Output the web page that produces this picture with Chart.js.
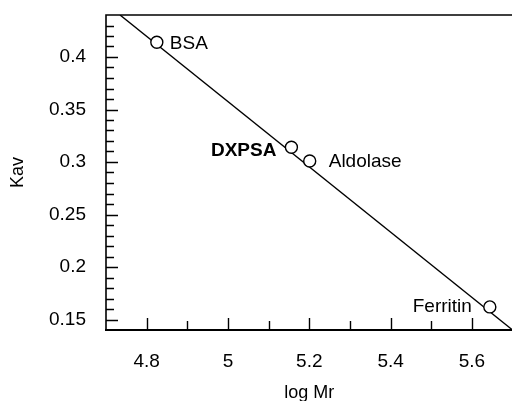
<!DOCTYPE html>
<html>
<head>
<meta charset="utf-8">
<script src="https://cdn.jsdelivr.net/npm/chart.js@4/dist/chart.umd.min.js"></script>
<style>
html,body{margin:0;padding:0;background:#fff;overflow:hidden;width:512px;height:401px;}
#wrap{position:absolute;left:0;top:0;width:520px;height:401px;}
</style>
</head>
<body>
<div id="wrap"><canvas id="c" width="520" height="401"></canvas></div>
<script>
// ---- data ----
const proteinNames = ["BSA", "DXPSA", "Aldolase", "Ferritin"];
const logMr = [4.825, 5.156, 5.201, 5.644];
const kav = [0.414, 0.314, 0.301, 0.162];
const fitLogMr = [4.7345, 5.70];
const fitKav = [0.440, 0.140];
const xTickValues = [4.8, 5, 5.2, 5.4, 5.6];
const yTickValues = [0.15, 0.2, 0.25, 0.3, 0.35, 0.4];

const FONT = "'Liberation Sans', Arial, Helvetica, sans-serif";

const labelPlacement = {
  "BSA":      {align: "left",  dx: 13,  dy: 1, bold: false},
  "DXPSA":    {align: "right", dx: -15, dy: 3, bold: true},
  "Aldolase": {align: "left",  dx: 19,  dy: 1, bold: false},
  "Ferritin": {align: "right", dx: -18, dy: 0, bold: false}
};

const framePlugin = {
  id: "frame",
  afterDraw(chart) {
    const ctx = chart.ctx, a = chart.chartArea;
    const xs = chart.scales.x, ys = chart.scales.y;
    ctx.save();
    ctx.strokeStyle = "#000";
    ctx.lineCap = "butt";
    ctx.lineWidth = 1.6;
    ctx.beginPath();
    ctx.moveTo(a.left, a.bottom); ctx.lineTo(a.left, a.top); ctx.lineTo(a.right, a.top);
    ctx.stroke();
    ctx.lineWidth = 2;
    ctx.beginPath();
    ctx.moveTo(a.left - 1, a.bottom); ctx.lineTo(a.right, a.bottom);
    ctx.stroke();
    ctx.lineWidth = 1.4;
    ctx.beginPath();
    for (let i = 0; i <= 10; i++) {
      const v = 4.7 + i * 0.1;
      const px = Math.round(xs.getPixelForValue(v)) + 0.5;
      if (px <= a.left + 2 || px >= a.right - 2) continue;
      const major = i % 2 === 1;
      ctx.moveTo(px, a.bottom);
      ctx.lineTo(px, a.bottom - (major ? 12 : 9));
    }
    for (let i = 0; i <= 30; i++) {
      const v = 0.14 + i * 0.01;
      const py = Math.round(ys.getPixelForValue(v)) + 0.5;
      if (py <= a.top + 2 || py >= a.bottom - 2) continue;
      const major = (i - 1) % 5 === 0;
      ctx.moveTo(a.left, py);
      ctx.lineTo(a.left + (major ? 12 : 8), py);
    }
    ctx.stroke();
    ctx.restore();
  }
};

const labelPlugin = {
  id: "ptlabels",
  afterDatasetsDraw(chart) {
    const ctx = chart.ctx;
    const xs = chart.scales.x, ys = chart.scales.y;
    ctx.save();
    ctx.fillStyle = "#000";
    ctx.textBaseline = "middle";
    proteinNames.forEach((n, i) => {
      const p = labelPlacement[n];
      ctx.font = (p.bold ? "bold " : "") + "19px " + FONT;
      ctx.textAlign = p.align;
      ctx.fillText(n, xs.getPixelForValue(logMr[i]) + p.dx, ys.getPixelForValue(kav[i]) + p.dy);
    });
    ctx.restore();
  }
};

new Chart(document.getElementById("c"), {
  type: "scatter",
  data: {
    datasets: [
      {
        type: "line",
        data: fitLogMr.map((x, i) => ({x: x, y: fitKav[i]})),
        borderColor: "#000",
        borderWidth: 1.4,
        pointRadius: 0,
        fill: false,
        order: 2
      },
      {
        data: logMr.map((x, i) => ({x: x, y: kav[i]})),
        pointRadius: 6,
        pointBackgroundColor: "#fff",
        pointBorderColor: "#000",
        pointBorderWidth: 1.4,
        order: 1
      }
    ]
  },
  options: {
    responsive: false,
    animation: false,
    devicePixelRatio: 1,
    layout: {padding: {top: 15, right: 7, left: 0, bottom: 0}},
    plugins: {legend: {display: false}, tooltip: {enabled: false}},
    scales: {
      x: {
        type: "linear", min: 4.7, max: 5.7,
        afterBuildTicks: s => { s.ticks = xTickValues.map(v => ({value: v})); },
        afterFit: s => { s.height = 71; s.paddingLeft = 0; s.paddingRight = 0; s.paddingTop = 0; s.paddingBottom = 0; },
        grid: {display: false, drawTicks: false},
        border: {display: false},
        ticks: {color: "#000", font: {family: FONT, size: 19}, padding: 20, maxRotation: 0,
                callback: v => String(v)},
        title: {display: true, text: "log Mr", color: "#000", font: {family: FONT, size: 18},
                padding: {top: 0, bottom: -3}}
      },
      y: {
        type: "linear", min: 0.14, max: 0.44,
        afterBuildTicks: s => { s.ticks = yTickValues.map(v => ({value: v})); },
        afterFit: s => { s.width = 106; s.paddingTop = 0; s.paddingBottom = 0; s.paddingLeft = 0; s.paddingRight = 0; },
        grid: {display: false, drawTicks: false},
        border: {display: false},
        ticks: {color: "#000", font: {family: FONT, size: 19}, padding: 20,
                callback: v => String(v)},
        title: {display: true, text: "Kav", color: "#000", font: {family: FONT, size: 18},
                padding: {top: 7, bottom: 0}}
      }
    }
  },
  plugins: [framePlugin, labelPlugin]
});
</script>
</body>
</html>
